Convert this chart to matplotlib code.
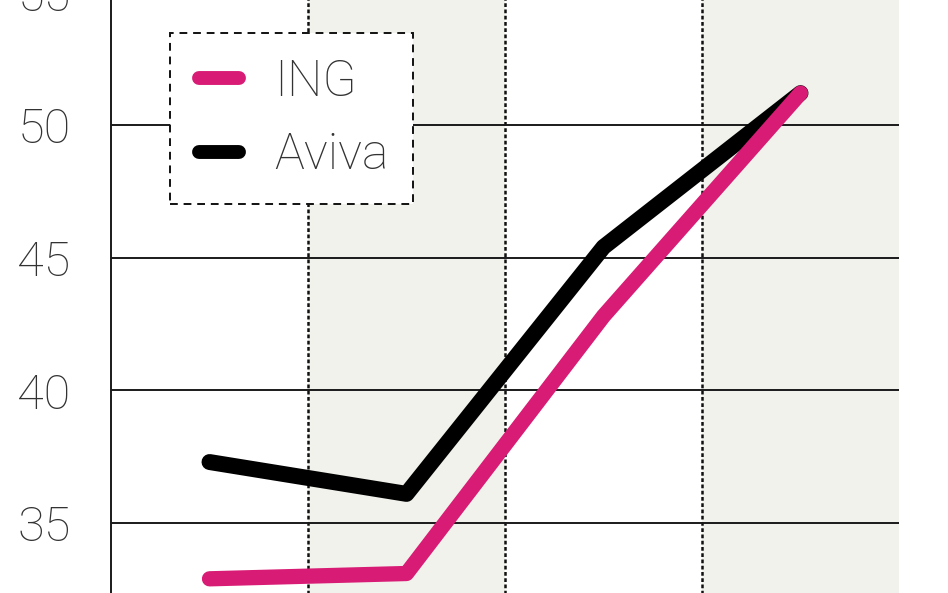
import matplotlib
matplotlib.use("Agg")
import matplotlib.pyplot as plt
import numpy as np

# values (4 periods, no x labels shown)
periods = ["1", "2", "3", "4"]
ing = [32.9, 33.1, 42.8, 51.2]
aviva = [37.3, 36.1, 45.4, 51.2]
yticks = [35, 40, 45, 50, 55]

pink = "#d81b74"
band = "#f2f2ec"
font = ["Roboto", "DejaVu Sans"]

fig = plt.figure(figsize=(9.48, 5.93), dpi=100)
fig.patch.set_facecolor("white")
# axes runs a bit past the figure top/bottom so the cut "55" label shows
ax = fig.add_axes([111 / 948, -9.7 / 593, 788 / 948, 623.7 / 593])

x = np.arange(len(periods))
ax.set_xlim(-0.5, len(periods) - 0.5)
ax.set_ylim(32, 55.5)

# alternating background columns
for i in range(len(periods)):
    if i % 2 == 1:
        ax.axvspan(i - 0.5, i + 0.5, color=band, zorder=0, lw=0)
for i in range(1, len(periods)):
    ax.axvline(i - 0.5, color="#111111", lw=1.8, ls=(0, (1.5, 1)), zorder=1)
for v in yticks:
    ax.axhline(v, color="#1a1a1a", lw=1.4, zorder=1)

ax.plot(x, aviva, color="black", lw=11.5, solid_capstyle="round",
        solid_joinstyle="round", label="Aviva", zorder=3)
ax.plot(x, ing, color=pink, lw=11, solid_capstyle="round",
        solid_joinstyle="round", label="ING", zorder=4)

ax.set_xticks([])
ax.set_yticks(yticks)
ax.set_yticklabels([str(v) for v in yticks], family=font, fontsize=35,
                   fontweight="light", color="#333333")
ax.tick_params(axis="y", length=0, pad=29)
for s in ["top", "right", "bottom"]:
    ax.spines[s].set_visible(False)
ax.spines["left"].set_linewidth(1.4)
ax.spines["left"].set_color("#1a1a1a")
ax.set_facecolor("white")

h, l = ax.get_legend_handles_labels()
leg = ax.legend(h[::-1], l[::-1], loc="upper left",
                bbox_to_anchor=(59 / 788, (602.7 - 33) / 623.7),
                borderaxespad=0, fancybox=False, framealpha=1,
                prop={"family": font, "size": 36, "weight": "light"},
                handlelength=0.8, handletextpad=0.78, labelspacing=0.52,
                borderpad=0.5)
fr = leg.get_frame()
fr.set_edgecolor("#111111")
fr.set_linestyle((0, (4, 3)))
fr.set_linewidth(1.4)
leg.set_zorder(5)
for t in leg.get_texts():
    t.set_color("#333333")
for ln in leg.get_lines():
    ln.set_linewidth(10)
    ln.set_xdata(np.asarray(ln.get_xdata()) + 3)

fig.savefig("out.png", dpi=100)
